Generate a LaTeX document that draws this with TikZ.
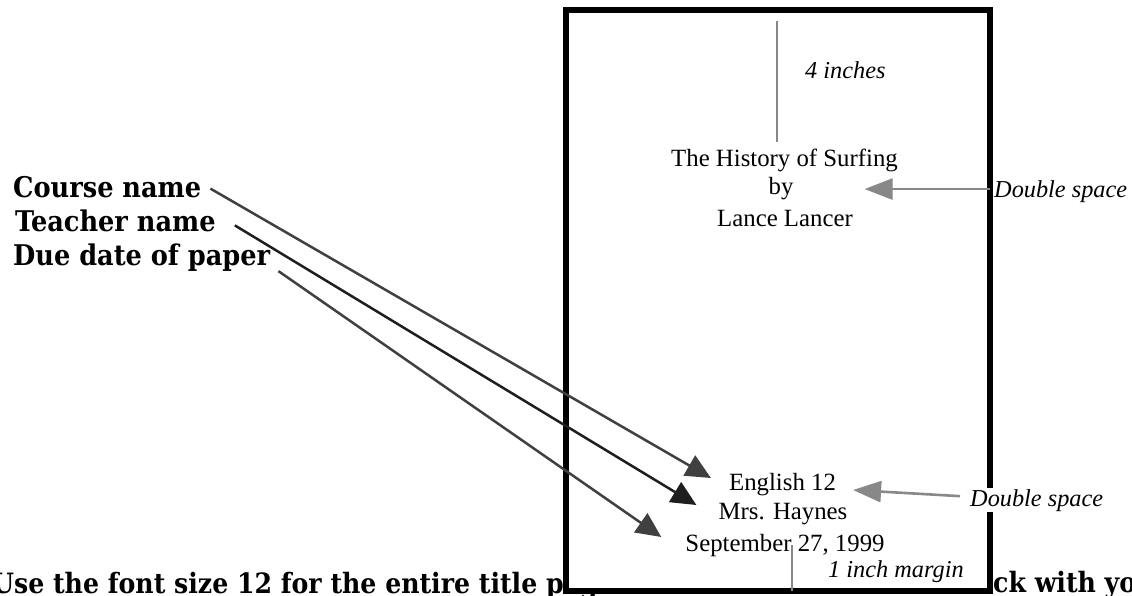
\documentclass[tikz,border=0pt]{standalone}
\usepackage{fontspec}
\setmainfont{Liberation Serif}
\newfontfamily\labfont{DejaVu Serif Condensed}
\usetikzlibrary{arrows.meta}
\definecolor{gline}{HTML}{888888}
\definecolor{darr}{HTML}{404040}
\definecolor{karr}{HTML}{1E1E1E}
\newlength\chew
\tikzset{
  lab/.style={font=\labfont\bfseries\fontsize{28.5}{32}\selectfont, inner sep=0pt},
  note/.style={font=\labfont\bfseries\fontsize{28}{32}\selectfont, inner sep=0pt},
  body/.style={font=\fontsize{24.8}{28}\selectfont, inner sep=0pt},
  ital/.style={font=\itshape\fontsize{24.3}{28}\selectfont, inner sep=0pt},
  grayline/.style={draw=gline, line width=2.6pt},
  grayarrow/.style={draw=gline, line width=2.6pt, -{Triangle[length=28pt,width=21pt]}},
  blackarrow/.style={draw=#1, fill=#1, line width=2.5pt, -{Triangle[length=25pt,width=23pt]}},
  page/.style={draw=black, line width=5.5pt, fill=white, inner sep=0pt, outer sep=0pt}
}
\begin{document}
\settowidth\chew{\labfont\bfseries\fontsize{28}{32}\selectfont che}
\begin{tikzpicture}[x=1pt,y=-1pt]
\useasboundingbox (0,0) rectangle (1132,596);
\clip (0,0) rectangle (1132,596);
% bottom note (partly hidden by the page)
\node[note, anchor=base west] (note1) at (-8,593) {Use the font size 12 for the entire title page.};
\node[note, anchor=base west] (note2) at ([xshift=-\chew]993,592) {check with your teacher.};
% page
\node[page, minimum width=424pt, minimum height=581pt] (page) at (778,300.5) {};
% title block
\node[body, anchor=base] (title) at (784.5,167) {The History of Surfing};
\node[body, anchor=base] (by) at (781,195) {by};
\node[body, anchor=base] (author) at (785,226) {Lance Lancer};
\node[ital, anchor=base west] (four) at (805,79) {4 inches};
\draw[grayline] ([xshift=-1pt,yshift=-11pt]page.north) -- ([xshift=-7.5pt,yshift=7pt]title.north);
\draw[grayarrow] (by -| page.east) -- ([xshift=71pt]by.east);
\node[ital, anchor=base west] (ds1) at (994,198) {Double space};
% bottom block
\node[body, anchor=base] (eng) at (782.5,490) {English 12};
\node[body, anchor=base] (mrs) at (783,519) {Mrs. Haynes};
\node[body, anchor=base] (date) at (785,551) {September 27, 1999};
\draw[grayline] ([xshift=14pt]page.south) -- ++(0,-46);
\node[ital, anchor=base west] (inch) at (828,577) {1 inch margin};
\node[ital, anchor=base west, fill=white, inner sep=1pt] (ds2) at (969,506) {Double space};
\draw[grayarrow] ([xshift=-9pt,yshift=4pt]ds2.west) -- ([xshift=17pt]eng.base east);
% labels
\node[lab, anchor=base west] (course) at (13,197) {Course name};
\node[lab, anchor=base west] (teacher) at (15,231) {Teacher name};
\node[lab, anchor=base west] (due) at (13,265) {Due date of paper};
\draw[blackarrow=darr] ([xshift=9pt,yshift=-2pt]course.east) -- ([xshift=-18pt,yshift=12pt]eng.base west);
\draw[blackarrow=karr] ([xshift=19pt,yshift=-5pt]teacher.east) -- ([xshift=-22pt,yshift=14pt]mrs.base west);
\draw[blackarrow=darr] ([xshift=8pt,yshift=-14pt]due.east) -- ([xshift=-24pt,yshift=14pt]date.base west);
\end{tikzpicture}
\end{document}
